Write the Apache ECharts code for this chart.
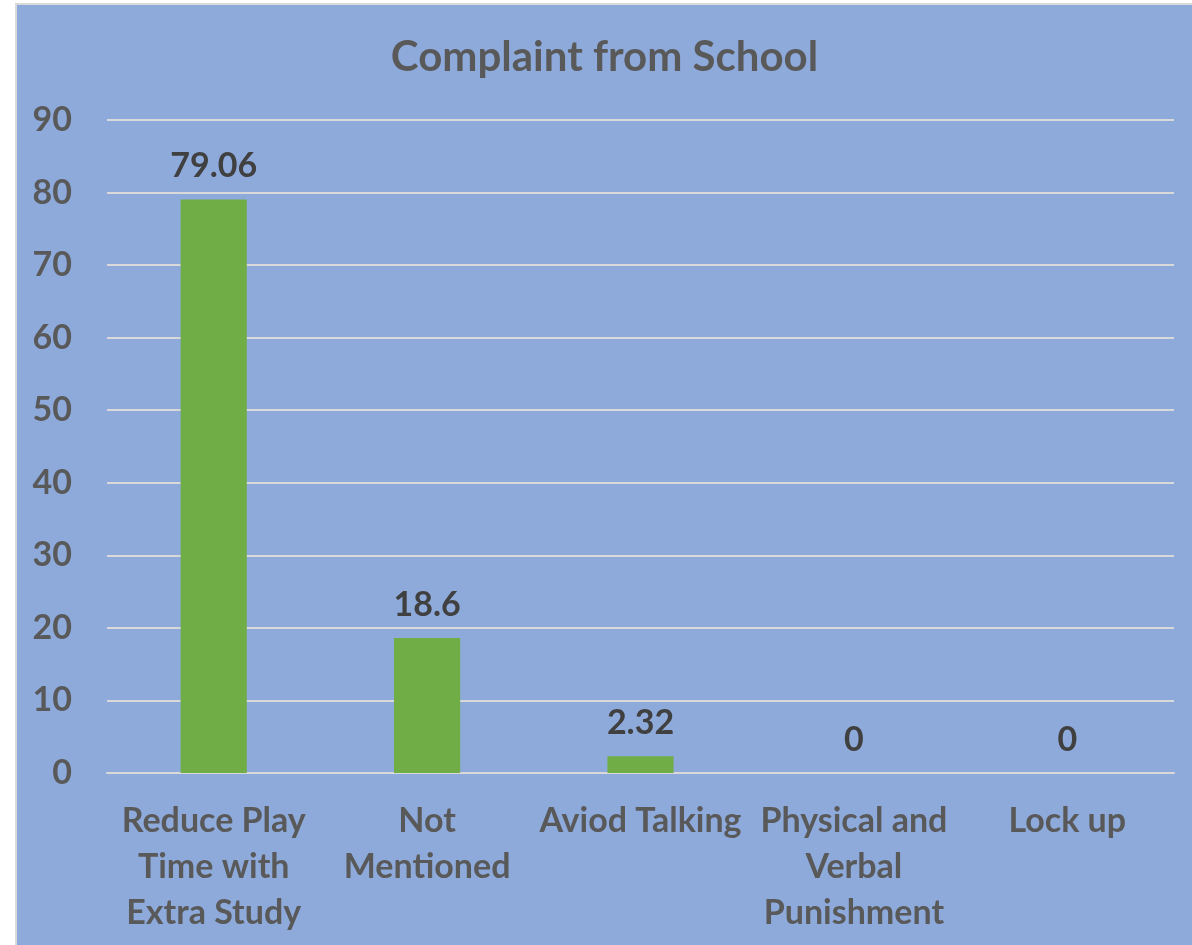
<!DOCTYPE html>
<html>
<head>
<meta charset="utf-8">
<script src="https://cdn.jsdelivr.net/npm/echarts@6/dist/echarts.min.js"></script>
<style>
  html, body { margin: 0; padding: 0; background: #ffffff; }
  #frame {
    position: absolute; left: 15px; top: 3px; width: 1175px; height: 940px;
    border-left: 2px solid #d9d9d9; border-top: 2px solid #d9d9d9;
    background: #8eaadb;
  }
  #chart { width: 1175px; height: 940px; }
</style>
</head>
<body>
<div id="frame"><div id="chart"></div></div>
<script>
const categories = [
  'Reduce Play\nTime with\nExtra Study',
  'Not\nMentioned',
  'Aviod Talking',
  'Physical and\nVerbal\nPunishment',
  'Lock up'
]
const values = [79.06, 18.6, 2.32, 0, 0]
const yTicks = { min: 0, max: 90, interval: 10 }

const font = 'Lato, "Open Sans", sans-serif'
const chart = echarts.init(document.getElementById('chart'))

chart.setOption({
  backgroundColor: '#8eaadb',
  title: {
    text: 'Complaint from School',
    left: 'center',
    top: 26,
    textStyle: { fontFamily: font, fontSize: 42, fontWeight: 'bold', color: '#595959' }
  },
  grid: { left: 90, right: 18, top: 115, bottom: 172 },
  xAxis: {
    type: 'category',
    data: categories,
    axisLine: { lineStyle: { color: '#d9d9d9', width: 2 } },
    axisTick: { show: false },
    axisLabel: {
      interval: 0,
      margin: 25,
      lineHeight: 46,
      fontFamily: font,
      fontSize: 34,
      fontWeight: 'bold',
      color: '#595959'
    }
  },
  yAxis: {
    type: 'value',
    min: yTicks.min,
    max: yTicks.max,
    interval: yTicks.interval,
    axisLine: { show: false },
    axisTick: { show: false },
    splitLine: { lineStyle: { color: '#d9d9d9', width: 2 } },
    axisLabel: {
      margin: 35,
      fontFamily: font,
      fontSize: 34,
      fontWeight: 'bold',
      color: '#595959'
    }
  },
  series: [{
    type: 'bar',
    data: values,
    barWidth: '31%',
    itemStyle: { color: '#70ad47' },
    label: {
      show: true,
      position: 'top',
      distance: 16,
      fontFamily: font,
      fontSize: 34,
      fontWeight: 'bold',
      color: '#404040'
    }
  }]
})
</script>
</body>
</html>
